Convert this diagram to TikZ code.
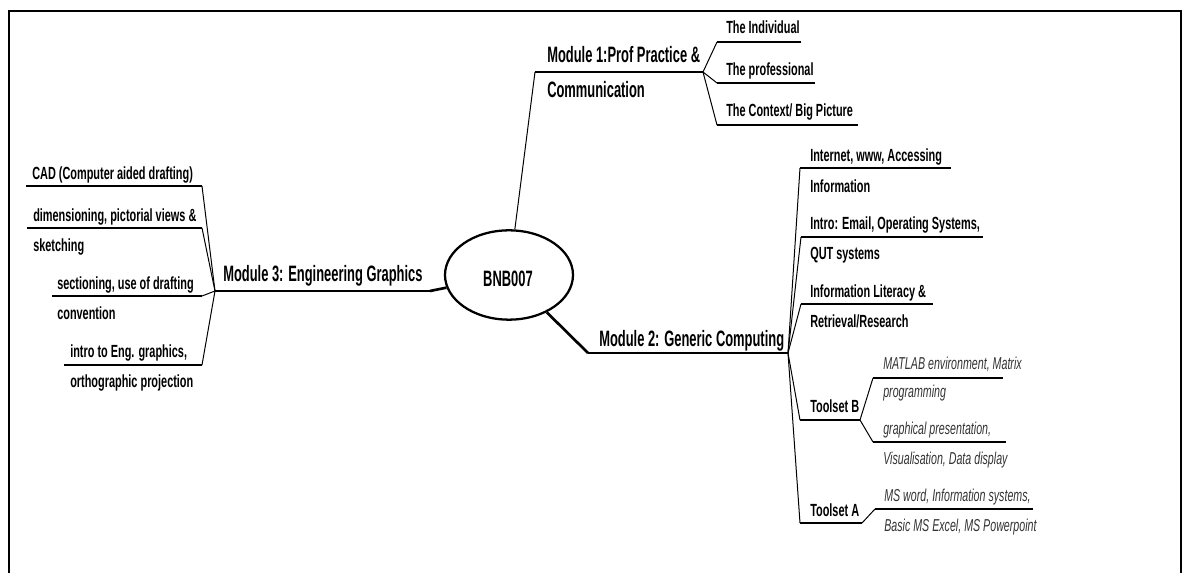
\documentclass[tikz,border=0pt]{standalone}
\usepackage{fontspec}
\setmainfont{Liberation Sans}
\newfontfamily\cond[FakeStretch=0.62]{Liberation Sans}
\newfontfamily\condbig[FakeStretch=0.58]{Liberation Sans}
\usetikzlibrary{shapes.geometric}

\begin{document}
\begin{tikzpicture}[x=0.75pt,y=-0.75pt,
  frame/.style={line width=2.2pt},
  hub/.style={ellipse, draw, line width=1.7pt, minimum width=96pt, minimum height=67pt, inner sep=0pt},
  big/.style={font=\condbig\bfseries\fontsize{16.7}{19}\selectfont, anchor=base west, inner sep=0pt},
  small/.style={font=\cond\bfseries\fontsize{13.2}{15}\selectfont, anchor=base west, inner sep=0pt},
  leaf/.style={font=\cond\itshape\fontsize{12.9}{15}\selectfont, anchor=base west, inner sep=0pt, text=black!80},
  trunk/.style={line width=2pt},
  spoke/.style={line width=2pt},
  twig/.style={line width=1.1pt},
  link/.style={line width=0.75pt},
]
\useasboundingbox (0,0) rectangle (1183,573);

% outer frame, open at the bottom
\draw[frame] (9,573) -- (9,11) -- (1181,11) -- (1181,573);

% central topic
\node[hub] (root) at (509,275) {};
\node[big, anchor=base] (rootlabel) at (508,287) {BNB007};

% ---------- Module 1 ----------
\coordinate (m1a) at (535,72);
\coordinate (m1b) at (703,72);
\node[big] (m1l1) at (547,63) {Module 1:Prof Practice \&};
\node[big] (m1l2) at (547,98) {Communication};
\draw[link] (root) -- (m1a);
\draw[trunk] (m1a) -- (m1b);

\coordinate (p1s) at (717,42);  \coordinate (p1e) at (801,42);
\coordinate (p2s) at (717,83);  \coordinate (p2e) at (815,83);
\coordinate (p3s) at (717,125); \coordinate (p3e) at (858,125);
\node[small] (p1) at (726,34)  {The Individual};
\node[small] (p2) at (726,76)  {The professional};
\node[small] (p3) at (726,117) {The Context/ Big Picture};
\foreach \k in {1,2,3}{
  \draw[link] (m1b) -- (p\k s);
  \draw[twig] (p\k s) -- (p\k e);
}

% ---------- Module 2 ----------
\coordinate (m2a) at (588,353);
\coordinate (m2b) at (788,353);
\node[big] (m2l) at (599,347) {Module 2: Generic Computing};
\draw[spoke] (root) -- (m2a);
\draw[trunk] (m2a) -- (m2b);

\coordinate (q1s) at (800,168); \coordinate (q1e) at (951,168);
\coordinate (q2s) at (801,237); \coordinate (q2e) at (983,237);
\coordinate (q3s) at (801,304); \coordinate (q3e) at (933,304);
\coordinate (tBs) at (800,420); \coordinate (tBe) at (860,420);
\coordinate (tAs) at (800,523); \coordinate (tAe) at (862,523);
\node[small] (q1a) at (810,162) {Internet, www, Accessing};
\node[small] (q1b) at (810,193) {Information};
\node[small] (q2a) at (810,230) {Intro: Email, Operating Systems,};
\node[small] (q2b) at (810,260) {QUT systems};
\node[small] (q3a) at (810,298) {Information Literacy \&};
\node[small] (q3b) at (810,328) {Retrieval/Research};
\node[small] (tB) at (810,413) {Toolset B};
\node[small] (tA) at (810,517) {Toolset A};
\foreach \k in {q1,q2,q3,tB,tA}{
  \draw[link] (m2b) -- (\k s);
  \draw[twig] (\k s) -- (\k e);
}

% Toolset B leaves
\coordinate (b1s) at (873,378); \coordinate (b1e) at (1003,378);
\coordinate (b2s) at (873,442); \coordinate (b2e) at (1006,442);
\node[leaf] (b1a) at (883,370) {MATLAB environment, Matrix};
\node[leaf] (b1b) at (883,398) {programming};
\node[leaf] (b2a) at (883,435) {graphical presentation,};
\node[leaf] (b2b) at (883,465) {Visualisation, Data display};
\foreach \k in {b1,b2}{
  \draw[link] (tBe) -- (\k s);
  \draw[twig] (\k s) -- (\k e);
}

% Toolset A leaf
\coordinate (a1s) at (875,509); \coordinate (a1e) at (1033,509);
\node[leaf] (a1a) at (884,502) {MS word, Information systems,};
\node[leaf] (a1b) at (884,532) {Basic MS Excel, MS Powerpoint};
\draw[link] (tAe) -- (a1s);
\draw[twig] (a1s) -- (a1e);

% ---------- Module 3 ----------
\coordinate (m3a) at (215,291);
\coordinate (m3b) at (430,291);
\node[big] (m3l) at (223,282) {Module 3: Engineering Graphics};
\draw[trunk] (m3a) -- (m3b);
\draw[spoke] (m3b) -- (root);

\coordinate (c1s) at (26,186); \coordinate (c1e) at (202,186);
\coordinate (c2s) at (27,228); \coordinate (c2e) at (202,228);
\coordinate (c3s) at (52,296); \coordinate (c3e) at (202,296);
\coordinate (c4s) at (64,365); \coordinate (c4e) at (202,365);
\node[small] (c1a) at (32,180) {CAD (Computer aided drafting)};
\node[small] (c2a) at (33,222) {dimensioning, pictorial views \&};
\node[small] (c2b) at (33,252) {sketching};
\node[small] (c3a) at (57,290) {sectioning, use of drafting};
\node[small] (c3b) at (57,320) {convention};
\node[small] (c4a) at (70,358) {intro to Eng. graphics,};
\node[small] (c4b) at (70,388) {orthographic projection};
\foreach \k in {c1,c2,c3,c4}{
  \draw[twig] (\k s) -- (\k e);
  \draw[link] (\k e) -- (m3a);
}
\end{tikzpicture}
\end{document}
